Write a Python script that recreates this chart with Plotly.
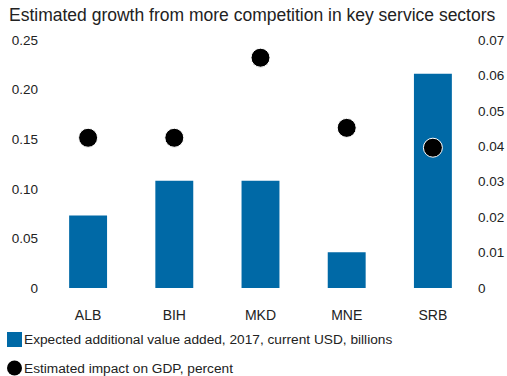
import plotly.graph_objects as go

# Data
countries = ["ALB", "BIH", "MKD", "MNE", "SRB"]
value_added = [0.073, 0.108, 0.108, 0.036, 0.216]      # USD billions (left axis)
gdp_impact = [0.0424, 0.0424, 0.0650, 0.0452, 0.0396]  # percent (right axis)

left_ticks = [0, 0.05, 0.10, 0.15, 0.20, 0.25]
left_labels = ["0", "0.05", "0.10", "0.15", "0.20", "0.25"]
right_ticks = [0, 0.01, 0.02, 0.03, 0.04, 0.05, 0.06, 0.07]
right_labels = ["0", "0.01", "0.02", "0.03", "0.04", "0.05", "0.06", "0.07"]

title_text = "Estimated growth from more competition in key service sectors"
legend_labels = [
    "Expected additional value added, 2017, current USD, billions",
    "Estimated impact on GDP, percent",
]

BLUE = "#0069a6"
TEXT = "#222222"
FONT = "Liberation Sans, Arial, sans-serif"

# Plot area in pixels
L, R, T, B = 45, 31, 40, 88
W, H = 507, 376
PW, PH = W - L - R, H - T - B

fig = go.Figure()
fig.add_trace(go.Bar(
    x=countries, y=value_added, marker=dict(color=BLUE, line=dict(width=0)),
    width=0.44, name=legend_labels[0], showlegend=False,
))
fig.add_trace(go.Scatter(
    x=countries, y=gdp_impact, mode="markers", yaxis="y2",
    marker=dict(color="black", size=19, line=dict(color="white", width=1)),
    name=legend_labels[1], showlegend=False,
))

fig.update_layout(
    width=W, height=H,
    margin=dict(l=L, r=R, t=T, b=B, autoexpand=False),
    paper_bgcolor="white", plot_bgcolor="white",
    font=dict(family=FONT, size=14, color=TEXT),
    xaxis=dict(showgrid=False, showline=False, zeroline=False, ticks="",
               ticklabelstandoff=17, automargin=False,
               tickfont=dict(size=14, color=TEXT)),
    yaxis=dict(range=[0, 0.25], tickvals=left_ticks, ticktext=left_labels,
               showgrid=False, zeroline=False, showline=False, ticks="",
               ticklabelstandoff=6, automargin=False,
               tickfont=dict(size=13.5, color=TEXT)),
    yaxis2=dict(range=[0, 0.07], tickvals=right_ticks, ticktext=right_labels,
                overlaying="y", side="right", automargin=False,
                showgrid=False, zeroline=False, showline=False, ticks="",
                ticklabelstandoff=1,
                tickfont=dict(size=13.5, color=TEXT)),
    showlegend=False,
)

def fx(x):
    return (x - L) / PW

def fy(y):
    return (H - B - y) / PH

# Title
fig.add_annotation(text=title_text, xref="paper", yref="paper",
                   x=fx(7), y=fy(15), xanchor="left", yanchor="middle",
                   showarrow=False, font=dict(size=17.5, color=TEXT))

# Legend drawn beneath the plot
fig.add_shape(type="rect", xref="paper", yref="paper", layer="above",
              x0=fx(7), x1=fx(22), y0=fy(332), y1=fy(347),
              fillcolor=BLUE, line=dict(width=0))
fig.add_shape(type="circle", xref="paper", yref="paper", layer="above",
              x0=fx(7), x1=fx(22), y0=fy(360.5), y1=fy(375.5),
              fillcolor="black", line=dict(width=0))
for label, yc in zip(legend_labels, [339.5, 368]):
    fig.add_annotation(text=label, xref="paper", yref="paper",
                       x=fx(22), y=fy(yc), xanchor="left", yanchor="middle",
                       showarrow=False, font=dict(size=13.7, color=TEXT))

fig.write_html("out.html")
